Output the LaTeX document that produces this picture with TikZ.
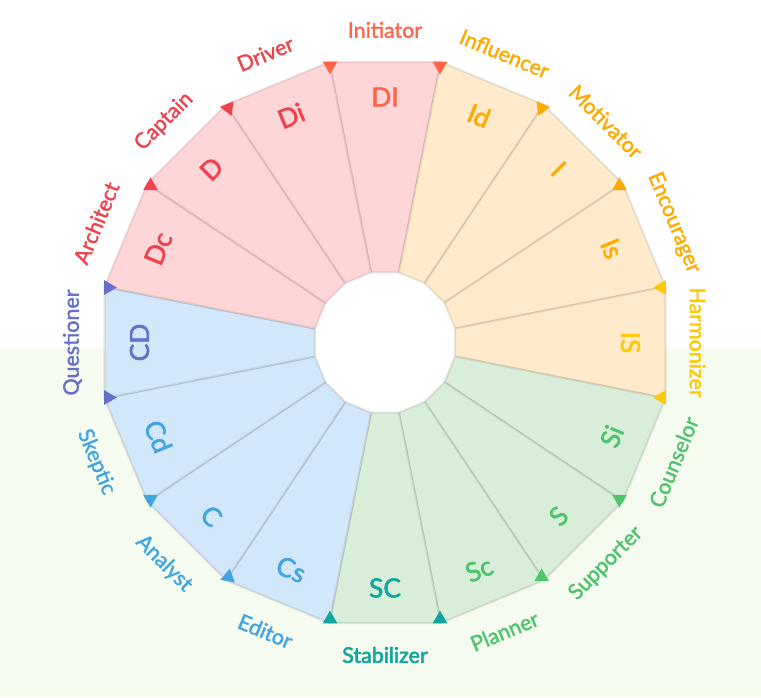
\documentclass[tikz,border=0pt]{standalone}
\usepackage{fontspec}
\setmainfont{Lato}
\newfontfamily\wheelfont{Lato}[FakeBold=1.6]
\newfontfamily\codefont{Lato}[FakeBold=2.2]
\newfontfamily\wheelbold{Lato}[FakeBold=2.6]
\usepackage{tikz}

\definecolor{redFill}{RGB}{255,214,216}
\definecolor{orangeFill}{RGB}{255,235,204}
\definecolor{greenFill}{RGB}{217,238,217}
\definecolor{blueFill}{RGB}{210,232,250}
\definecolor{bgGreen}{RGB}{246,251,239}
\definecolor{coralText}{RGB}{255,100,72}
\definecolor{redText}{RGB}{240,66,78}
\definecolor{orangeText}{RGB}{255,170,0}
\definecolor{goldText}{RGB}{255,200,0}
\definecolor{greenText}{RGB}{80,195,110}
\definecolor{tealText}{RGB}{17,166,158}
\definecolor{blueText}{RGB}{66,165,226}
\definecolor{indigoText}{RGB}{102,112,200}

\begin{document}
\begin{tikzpicture}[line join=round,
  seg/.style={draw=black, draw opacity=0.09, line width=1.2pt},
  role/.style={font=\wheelfont\fontsize{12.2}{14}\selectfont, inner sep=0pt},
  code/.style={font=\codefont\fontsize{15}{18}\selectfont, inner sep=0pt}]
  \useasboundingbox (-7.7,-7.09) rectangle (7.52,6.85);
  \fill[bgGreen] (-7.7,-7.09) rectangle (7.52,-0.11);
  \fill[white] (101.25:1.43) \foreach \k in {1,...,15} {-- (101.25-22.5*\k:1.43)} -- cycle;
  % the sixteen segments
  \foreach \a/\f in {90/redFill, 67.5/orangeFill, 45/orangeFill, 22.5/orangeFill,
      0/orangeFill, -22.5/greenFill, -45/greenFill, -67.5/greenFill,
      -90/greenFill, -112.5/blueFill, -135/blueFill, -157.5/blueFill,
      180/blueFill, 157.5/redFill, 135/redFill, 112.5/redFill}
    \filldraw[seg, fill=\f] (\a+11.25:1.43) -- (\a+11.25:5.72)
      -- (\a-11.25:5.72) -- (\a-11.25:1.43) -- cycle;
  % codes and roles
  \foreach \a/\c/\code/\role in {90/coralText/DI/Initiator, 67.5/orangeText/Id/Influencer,
      45/orangeText/I/Motivator, 22.5/orangeText/Is/Encourager, 0/goldText/IS/Harmonizer,
      -22.5/greenText/Si/Counselor, -45/greenText/S/Supporter, -67.5/greenText/Sc/Planner,
      -90/tealText/SC/\wheelbold Stabilizer, -112.5/blueText/Cs/Editor, -135/blueText/C/Analyst,
      -157.5/blueText/Cd/Skeptic, 180/indigoText/CD/Questioner, 157.5/redText/Dc/Architect,
      135/redText/D/Captain, 112.5/redText/Di/Driver} {
    \pgfmathsetmacro\rot{\a>=0 ? \a-90 : \a+90}
    \node[code, text=\c, rotate=\rot] (code-\code) at (\a:4.91) {\code};
    \node[role, text=\c, rotate=\rot] (role-\code) at (\a:6.25) {\role};
  }
  % corner marks
  \foreach \v/\c/\d in {101.25/coralText/270, 78.75/coralText/270, 56.25/orangeText/247.5,
      33.75/orangeText/90, 11.25/goldText/180, -11.25/goldText/180,
      -33.75/greenText/270, -56.25/greenText/90, -78.75/tealText/90,
      -101.25/tealText/90, -123.75/blueText/80, -146.25/blueText/270,
      -168.75/indigoText/0, 168.75/indigoText/0, 146.25/redText/90,
      123.75/redText/292.5}
    \fill[\c, shift={(\v:5.64)}, rotate=\d] (0:0.17) -- (120:0.17) -- (240:0.17) -- cycle;
\end{tikzpicture}
\end{document}
